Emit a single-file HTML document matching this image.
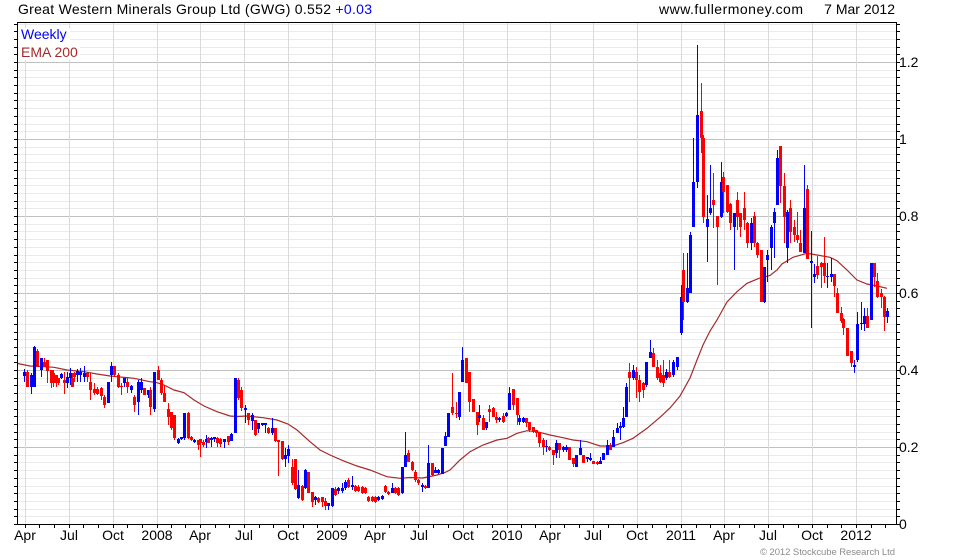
<!DOCTYPE html>
<html><head><meta charset="utf-8">
<style>
html,body{margin:0;padding:0;background:#fff;}
body{width:980px;height:560px;overflow:hidden;position:relative;}
svg{position:absolute;left:0;top:0;}
</style></head><body>
<svg id="c" width="980" height="560" xmlns="http://www.w3.org/2000/svg" font-family="Liberation Sans, Arial, sans-serif" font-size="14">
<g id="grid" shape-rendering="crispEdges"></g>
<rect x="19" y="28" width="51" height="16" fill="#fff"/>
<rect x="19" y="44" width="61" height="16" fill="#fff"/>
<g id="ema"></g>
<g id="candles" shape-rendering="crispEdges"></g>
<g id="axis" shape-rendering="crispEdges"></g>
<text x="18" y="14" fill="#000" textLength="354" lengthAdjust="spacing">Great Western Minerals Group Ltd (GWG) 0.552 <tspan fill="#0000ff">+0.03</tspan></text>
<text x="659" y="14" fill="#000" textLength="144" lengthAdjust="spacing">www.fullermoney.com</text>
<text x="895" y="14" fill="#000" text-anchor="end">7 Mar 2012</text>
<text x="21" y="39" fill="#0000ff">Weekly</text>
<text x="21" y="57" fill="#a52a2a">EMA 200</text>
<g fill="#000">
<text x="899" y="529">0</text>
<text x="899" y="452">0.2</text>
<text x="899" y="375">0.4</text>
<text x="899" y="298">0.6</text>
<text x="899" y="221">0.8</text>
<text x="899" y="144">1</text>
<text x="899" y="67">1.2</text>
</g>
<g fill="#000" text-anchor="middle">
<text x="25" y="540">Apr</text>
<text x="69" y="540">Jul</text>
<text x="113" y="540">Oct</text>
<text x="157" y="540">2008</text>
<text x="200" y="540">Apr</text>
<text x="244" y="540">Jul</text>
<text x="288" y="540">Oct</text>
<text x="332" y="540">2009</text>
<text x="375" y="540">Apr</text>
<text x="419" y="540">Jul</text>
<text x="463" y="540">Oct</text>
<text x="507" y="540">2010</text>
<text x="550" y="540">Apr</text>
<text x="593" y="540">Jul</text>
<text x="637" y="540">Oct</text>
<text x="681" y="540">2011</text>
<text x="724" y="540">Apr</text>
<text x="768" y="540">Jul</text>
<text x="812" y="540">Oct</text>
<text x="856" y="540">2012</text>
</g>
<text x="895" y="555" fill="#8c8c8c" font-size="9.5" text-anchor="end" textLength="135" lengthAdjust="spacing">© 2012 Stockcube Research Ltd</text>
</svg>
<script>
(function(){
var L=17,R=896,T=22,B=524;
var g='';
for(var i=1;i<=65;i++){
  var y=Math.round(B-i*0.02*385);
  if(y<=T)break;
  var major=(i%10===0);
  g+='<line x1="'+L+'" x2="'+R+'" y1="'+(y+0.5)+'" y2="'+(y+0.5)+'" stroke="'+(major?'#c0c0c0':'#ebebeb')+'"/>';
}
var q=[25,69,113,157,200,244,288,332,375,419,463,507,550,593,637,681,724,768,812,856];
q.forEach(function(x){g+='<line x1="'+(x+0.5)+'" x2="'+(x+0.5)+'" y1="'+T+'" y2="'+B+'" stroke="#dadada"/>';});
document.getElementById('grid').innerHTML=g;

var a='<rect x="'+(L+0.5)+'" y="'+(T+0.5)+'" width="'+(R-L)+'" height="'+(B-T)+'" fill="none" stroke="#000"/>';
for(var i=0;i<=65;i++){
  var y=Math.round(B-i*0.02*385);
  if(y<T)break;
  a+='<line x1="'+(L-3)+'" x2="'+L+'" y1="'+(y+0.5)+'" y2="'+(y+0.5)+'" stroke="#000"/>';
  a+='<line x1="'+(R+1)+'" x2="'+(R+4)+'" y1="'+(y+0.5)+'" y2="'+(y+0.5)+'" stroke="#000"/>';
}
var start=Date.UTC(2007,3,1);
for(var yy=2007;yy<=2012;yy++){for(var m=0;m<12;m++){
  var t=Date.UTC(yy,m,1); var d=(t-start)/86400000;
  var x=Math.round(25+d*0.4787);
  if(x<L||x>R)continue;
  a+='<line x1="'+(x+0.5)+'" x2="'+(x+0.5)+'" y1="'+B+'" y2="'+(B+4)+'" stroke="#000"/>';
}}
document.getElementById('axis').innerHTML=a;

var ema=[[18,363.5],[20,364],[30,366],[44,366.7],[54,367.3],[67,370],[84,371.7],[97,374],[110,376],[117,376.7],[134,378.3],[150,381.7],[157,382.7],[164,385],[174,390],[184,392.7],[194,400],[204,406],[217,411.7],[230,416],[237,416.5],[247,416],[263,417.7],[277,420],[288,424],[297,430],[310,441.7],[320,450],[330,455],[343,460.7],[357,466],[370,470],[387,476.7],[400,478.3],[410,477.5],[423,478],[437,475],[445,472.5],[450,470],[460,460],[470,451.7],[483,445],[497,440],[507,438.3],[517,433.3],[527,430.7],[537,431.7],[550,435],[563,437.7],[573,440],[587,441.7],[600,446],[613,446],[623,442.7],[633,438.3],[647,428.3],[660,417.3],[670,408],[680,396],[690,378],[697,360],[703,345],[710,331],[717,320],[727,302],[737,291.7],[747,283.3],[760,278],[770,275.5],[777,270],[782,264],[793,257.3],[807,253.3],[817,255],[830,257.3],[837,260.7],[847,270],[857,280],[867,284],[877,286],[887,288.3]];
document.getElementById('ema').innerHTML='<polyline fill="none" stroke="#a52a2a" stroke-width="1.2" points="'+ema.map(function(p){return p[0]+','+p[1];}).join(' ')+'"/>';

var segs=[
{ox:17,oy:340,d:[
[22,95,108,1,88,125],[30,95,140,0,90,140],[42,105,140,1,100,162],[50,20,140,1,18,140],[60,32,80,0,28,80],[72,55,90,1,55,110],[80,65,80,0,55,80],[90,60,92,0,60,130],[102,90,130,0,90,145],[108,100,128,0,90,140],[116,105,130,0,115,140],[122,115,130,0,115,135],[132,102,115,1],[142,120,130,0,95,162],[150,110,130,1,95,145],[160,100,115,1,85,135],[166,115,140,0,100,140],[172,100,110,0,95,125],[180,92,105,1,88,125],[190,95,105,1,85,125],[202,100,110,1,78,125],[210,100,110,0,95,125],[220,125,150,0,100,180],[230,148,160,0,130,165],[240,148,162,0,140,165],[252,145,168,0,140,180],[262,170,195,0,165,205],[272,125,190,1,125,190],[282,78,105,1,65,125],[292,78,105,0,78,110],[302,105,140,0,100,145],[312,138,142,0,128,165],[322,115,130,1,115,140],[330,125,142,0,110,160],[342,138,150,1,135,160],[352,170,195,0,165,215],[362,125,185,1,120,225],[372,125,150,1,115,160],[380,145,165,0,145,165],[392,150,165,1,150,175],[400,150,200,0,140,225],[410,95,208,1,95,215],[422,90,120,0,78,120],[432,120,160,0,115,165],[440,160,185,0,135,185],[452,208,230,0,190,255],[462,215,265,0,215,270],[470,225,295,0,225,300],[482,298,310,1],[492,290,297,1,290,300],[502,220,295,1,220,300],[512,220,295,0],[522,292,300,0],[532,300,305,1],[542,300,315,0,300,330],[550,298,310,0,298,350],[558,305,315,0,300,320],[566,298,305,1,285,325],[574,295,310,0,290,310],[582,295,300,1,290,320],[592,292,298,1,292,305],[600,295,310,0,290,320],[610,298,312,0,295,320],[622,298,305,1,298,325],[632,288,305,0,288,315],[642,282,302,1,280,302],[654,115,280,1,115,280],[662,120,175,0,115,180],[672,150,205,0,140,212],[684,205,210,1,195,250]
]},
{ox:230,oy:370,d:[
[55,130,150,0,130,165],[65,135,152,1,130,180],[75,150,195,0,150,198],[85,160,178,1,160,190],[95,160,165,1,158,168],[105,160,165,1,158,190],[115,175,190,0,172,192],[125,175,190,1,145,195],[135,175,212,0,175,215],[145,210,215,0,210,318],[155,212,268,0,212,270],[165,255,268,1,235,290],[175,237,258,1,225,280],[185,290,338,0,268,345],[195,268,358,0,268,360],[205,345,385,1,300,388],[215,348,390,0,345,392],[225,300,355,1,298,358],[235,305,368,0,305,370],[245,365,395,0,365,410],[255,382,390,1,378,405],[265,385,395,0],[275,380,395,0,380,410],[285,392,408,0,385,420],[295,400,408,1,398,420],[305,355,408,1,355,410],[315,358,375,0,352,378],[325,355,362,1,350,372],[335,355,362,1,340,370],[345,335,355,1,330,360],[355,330,350,0,325,355],[365,345,352,1,318,360],[375,348,362,0,345,365],[385,350,362,0,345,365],[395,350,368,0],[405,355,368,0],[415,380,392,0],[425,380,392,0],[435,380,395,0],[445,382,390,1],[455,378,388,1,375,390],[465,348,365,0,345,368],[475,365,372,0],[485,355,368,1,340,370],[495,355,368,0],[505,355,375,0,352,378],[515,290,370,1,290,372],[525,255,290,1,185,290],[535,250,275,0,240,275],[545,275,300,0,272,302],[555,305,330,0,300,335],[565,330,340,0,328,345],[575,345,352,1,340,365],[585,348,355,0,345,358],[595,280,355,1,225,355],[605,280,315,0,278,318],[615,300,308,1,290,310],[625,300,308,1,298,312],[635,235,312,1,235,312],[645,198,228,1,185,228],[655,130,200,1,128,200]
]},
{ox:440,oy:340,d:[
[35,200,220,0,100,225],[48,218,222,0,185,235],[58,155,230,1,155,240],[66,60,125,1,20,125],[78,55,130,0,55,130],[88,95,185,0,95,215],[98,178,215,0,178,215],[110,215,255,0,215,285],[118,225,235,1,195,245],[128,235,270,0,225,270],[138,245,265,1,245,270],[148,208,215,0,195,245],[158,205,230,0,200,230],[168,230,240,0,215,250],[178,235,240,1,230,245],[188,228,245,0,218,250],[198,218,228,1,215,230],[208,160,210,1,140,210],[220,148,195,0,148,210],[230,175,225,0,175,255],[238,235,245,1,225,255],[248,235,245,1],[258,235,250,0,235,260],[268,245,270,0,245,275],[278,262,275,0,262,280],[288,270,280,0,270,290],[298,275,310,0,275,320],[308,300,320,0,295,345],[318,318,322,1,300,335],[328,320,330,0],[338,330,345,0,330,375],[348,308,340,1,300,355],[358,310,330,0,310,355],[368,322,330,1,318,335],[378,322,330,1,315,335],[388,320,360,0,320,360],[398,355,372,0,355,380],[408,345,380,1,345,380],[420,325,345,1,300,345],[430,345,370,0,345,370],[440,352,358,1,350,365],[450,355,360,1,340,362],[460,362,372,0,362,372],[470,365,372,0],[480,362,372,1,350,372],[490,340,360,1,340,360],[500,315,345,1,300,345],[510,315,330,0,310,330],[520,290,320,1,270,320],[530,265,280,1,250,280],[540,258,265,1,245,300],[550,235,260,1,200,265],[558,140,230,1,130,230],[568,95,115,0,70,185],[578,90,115,1,75,120],[588,95,120,0,80,175],[598,120,155,0,105,185],[608,130,150,0,125,175],[618,65,135,1,65,140],[630,35,55,1,0,55]
]},
{ox:630,oy:280,d:[
[68,218,260,0,205,260],[80,260,295,0,240,300],[90,280,305,0,255,310],[98,285,310,0,240,320],[108,275,295,1,268,300],[118,275,290,0,240,295],[128,245,285,1,240,290],[140,230,262,1,230,270]
]},
{ox:640,oy:40,d:[
[122,770,880,1,735,885],[130,690,785,0,640,840],[142,745,785,1,640,790],[150,585,760,1,575,760],[160,425,562,1,295,562],[172,225,425,1,15,445],[182,212,295,0,130,340],[190,295,530,0,285,548],[202,538,562,1,465,665],[210,505,518,1,375,525],[220,480,495,0,398,565],[232,528,562,0,528,735],[242,425,530,1,365,535],[250,410,455,0,395,520],[262,435,515,0,435,520],[270,492,550,0,490,570],[282,518,562,1,518,690],[292,480,530,0,455,570],[300,518,562,0,518,590],[312,505,540,0,455,570],[322,550,610,0,545,625],[332,550,610,1,535,630],[342,528,610,0,515,620],[352,610,645,0,605,655],[362,630,785,0,630,785],[372,680,785,1,680,790],[382,645,660,1,630,725]
]},
{ox:760,oy:140,d:[
[32,262,325,1,255,390],[42,215,248,1,205,355],[52,55,195,1,30,195],[60,18,138,0,18,190],[72,138,230,0,100,310],[82,215,325,1,210,370],[90,205,275,0,180,308],[102,260,285,0,240,305],[112,285,300,0,215,310],[120,308,335,0,270,335],[132,205,338,1,75,340],[142,148,358,0,135,358],[152,362,368,1,272,565],[162,402,412,1,372,430],[172,378,405,0,348,418],[182,368,380,0,365,445],[192,368,408,0,290,430],[202,408,412,1,370,445],[212,402,412,1,355,425],[222,402,438,0,402,470],[232,460,518,0,445,518],[242,518,542,0,500,548],[250,538,565,0,535,585],[262,565,648,0,565,648],[272,632,668,0,632,682],[282,675,680,1,660,700],[292,552,660,1,515,665],[302,548,552,1,485,570],[312,528,552,1,505,572],[322,528,565,0,505,565],[332,368,540,1,368,540],[342,368,412,0,368,440],[352,422,472,0,400,475],[362,460,472,0,448,505],[372,472,530,0,468,572],[382,512,530,1,505,550]
]}
];
var h='';
segs.forEach(function(s){s.d.forEach(function(c){
  var X=Math.round(s.ox+c[0]/3);
  var bt=s.oy+c[1]/3, bb=s.oy+c[2]/3;
  var wt=s.oy+(c.length>4?c[4]:c[1]-3)/3, wb=s.oy+(c.length>4?c[5]:c[2]+3)/3;
  wt=Math.min(wt,bt); wb=Math.max(wb,bb);
  var col=c[3]?'#0000ff':'#ff0000';
  var y1=Math.round(bt), y2=Math.round(bb); if(y2-y1<1)y2=y1+1;
  h+='<line x1="'+(X+0.5)+'" x2="'+(X+0.5)+'" y1="'+Math.round(wt)+'" y2="'+Math.round(wb)+'" stroke="'+col+'"/>';
  h+='<rect x="'+(X-1)+'" y="'+y1+'" width="3" height="'+(y2-y1)+'" fill="'+col+'"/>';
});});
document.getElementById('candles').innerHTML=h;
})();
</script>
</body></html>
